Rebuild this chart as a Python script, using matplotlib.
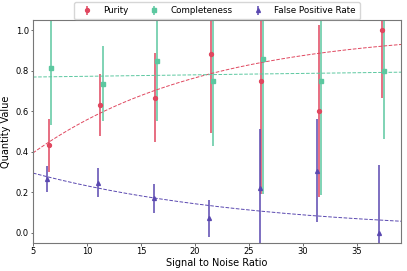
import numpy as np
import matplotlib
matplotlib.use("Agg")
import matplotlib.pyplot as plt

# Data
snr_purity = [6.5, 11.2, 16.3, 21.5, 26.1, 31.5, 37.3]
purity = [0.432, 0.632, 0.667, 0.880, 0.75, 0.60, 1.0]
purity_lo = [0.30, 0.477, 0.449, 0.493, 0.19, 0.175, 0.663]
purity_hi = [0.56, 0.786, 0.885, 1.30, 1.30, 1.025, 1.30]

snr_comp = [6.7, 11.5, 16.5, 21.7, 26.3, 31.7, 37.5]
completeness = [0.815, 0.736, 0.846, 0.75, 0.858, 0.75, 0.80]
comp_lo = [0.53, 0.55, 0.55, 0.43, 0.19, 0.188, 0.465]
comp_hi = [1.30, 0.92, 1.30, 1.30, 1.30, 1.30, 1.30]

snr_fpr = [6.3, 11.0, 16.2, 21.3, 26.0, 31.3, 37.1]
fpr = [0.265, 0.246, 0.172, 0.073, 0.219, 0.307, 0.0]
fpr_lo = [0.20, 0.175, 0.10, -0.018, -0.30, 0.053, -0.30]
fpr_hi = [0.33, 0.32, 0.243, 0.163, 0.51, 0.564, 0.333]

# fitted model parameters
purity_fit = (0.83, 0.063)     # 1 - a*exp(-b x)
comp_fit = (0.235, 0.0032)     # 1 - a*exp(-b x)
fpr_fit = (0.375, 0.048)       # a*exp(-b x)

c_pur = "#e0475f"
c_comp = "#5cc8a0"
c_fpr = "#5a48b0"

fig = plt.figure(figsize=(4.07, 2.71), dpi=100)
ax = fig.add_axes([33/407, 1 - 243/271, 368/407, 223/271])

def err(v, lo, hi):
    v = np.array(v); return [v - np.array(lo), np.array(hi) - v]

ax.errorbar(snr_purity, purity, yerr=err(purity, purity_lo, purity_hi), fmt='o',
            color=c_pur, ms=2.8, elinewidth=1.1, label='Purity')
ax.errorbar(snr_comp, completeness, yerr=err(completeness, comp_lo, comp_hi), fmt='s',
            color=c_comp, ms=2.8, elinewidth=1.1, label='Completeness')
ax.errorbar(snr_fpr, fpr, yerr=err(fpr, fpr_lo, fpr_hi), fmt='^',
            color=c_fpr, ms=2.8, elinewidth=1.1, label='False Positive Rate')

xx = np.linspace(5, 39.1, 200)
ax.plot(xx, 1 - purity_fit[0] * np.exp(-purity_fit[1] * xx), '--', color=c_pur, lw=0.7)
ax.plot(xx, 1 - comp_fit[0] * np.exp(-comp_fit[1] * xx), '--', color=c_comp, lw=0.7)
ax.plot(xx, fpr_fit[0] * np.exp(-fpr_fit[1] * xx), '--', color=c_fpr, lw=0.7)

ax.set_xlim(5, 39.1)
ax.set_ylim(-0.05, 1.05)
ax.set_xticks([5, 10, 15, 20, 25, 30, 35])
ax.set_yticks([0.0, 0.2, 0.4, 0.6, 0.8, 1.0])
ax.tick_params(labelsize=6, length=1.8, width=0.6, pad=1.2, color='#555555')
for s in ax.spines.values():
    s.set_color('#777777')
    s.set_linewidth(0.8)
ax.set_xlabel('Signal to Noise Ratio', fontsize=7, labelpad=1)
ax.set_ylabel('Quantity Value', fontsize=7, labelpad=3)
ax.legend(loc='lower center', bbox_to_anchor=(0.5, 0.995), ncol=3, fontsize=6.3,
          frameon=True, borderpad=0.45, columnspacing=1.95, handletextpad=0.85,
          fancybox=True, edgecolor='#cccccc', borderaxespad=0.2)

fig.savefig('out.png', dpi=100)
